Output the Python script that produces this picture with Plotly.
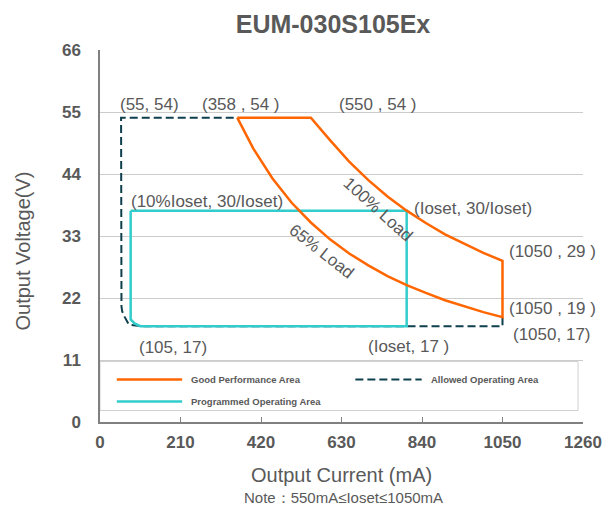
import plotly.graph_objects as go

# ---------------- data ----------------
# Good performance area: top edge, 100% load curve, right edge, 65% load curve
top_I = [358, 550]
top_V = [54, 54]
load100_I = [550, 600, 650, 700, 750, 800, 850, 900, 950, 1000, 1050]
load100_V = [54, 50, 46.2, 42.9, 40, 37.5, 35.3, 33.3, 31.6, 30, 28.6]
load65_I = [358, 400, 450, 500, 550, 600, 650, 700, 750, 800, 850, 900, 950, 1000, 1050]
load65_V = [54, 48.5, 43.2, 38.9, 35.4, 32.4, 29.9, 27.8, 25.9, 24.3, 22.9, 21.6, 20.5, 19.5, 18.6]

# Allowed operating area (dashed)
allowed_I = [1050, 1050, 105, 75, 64, 58, 56, 55, 358]
allowed_V = [18.6, 17, 17, 17.3, 18.7, 19.6, 20.5, 54, 54]

# Programmed operating area (Ioset = 800 mA)
prog_I = [80, 800, 800, 105, 90, 80, 80]
prog_V = [37.5, 37.5, 17, 17, 17.5, 18.2, 37.5]

x_ticks = [0, 210, 420, 630, 840, 1050, 1260]
y_ticks = [0, 11, 22, 33, 44, 55, 66]

# point labels: (text, I, V, xanchor)
labels = [
    ("(55, 54)", 129, 56.3, "center"),
    ("(358 , 54 )", 368, 56.3, "center"),
    ("(550 , 54 )", 725, 56.3, "center"),
    ("(10%Ioset, 30/Ioset)", 279, 39.1, "center"),
    ("(Ioset, 30/Ioset)", 972, 37.9, "center"),
    ("(1050 , 29 )", 1063, 30.3, "left"),
    ("(1050 , 19 )", 1063, 20.2, "left"),
    ("(1050, 17)", 1071, 15.5, "left"),
    ("(105, 17)", 191, 13.2, "center"),
    ("(Ioset, 17 )", 806, 13.4, "center"),
]
curve_labels = [
    ("100% Load", 725, 37.7, 42),
    ("65% Load", 578, 30.2, 38),
]

ORANGE = "#FF6600"
TEAL = "#0E3F4C"
CYAN = "#33CCCC"
GRAY = "#595959"
FONT = "Arial, Liberation Sans, sans-serif"

good_I = top_I + load100_I[1:] + load65_I[::-1]
good_V = top_V + load100_V[1:] + load65_V[::-1]

fig = go.Figure()
fig.add_trace(go.Scatter(x=allowed_I, y=allowed_V, mode="lines",
                         line=dict(color=TEAL, width=2, dash="8px,4px"),
                         name="Allowed Operating Area", showlegend=False))
fig.add_trace(go.Scatter(x=prog_I, y=prog_V, mode="lines",
                         line=dict(color=CYAN, width=2.5),
                         name="Programmed Operating Area", showlegend=False))
fig.add_trace(go.Scatter(x=good_I, y=good_V, mode="lines",
                         line=dict(color=ORANGE, width=2.5),
                         name="Good Performance Area", showlegend=False))

ann = []
for t, xi, yi, xa in labels:
    ann.append(dict(text=t, x=xi, y=yi, xref="x", yref="y", showarrow=False,
                    xanchor=xa, yanchor="middle",
                    font=dict(family=FONT, size=17, color=GRAY)))
for t, xi, yi, ang in curve_labels:
    ann.append(dict(text=t, x=xi, y=yi, xref="x", yref="y", showarrow=False,
                    xanchor="center", yanchor="middle",
                    textangle=ang, font=dict(family=FONT, size=17, color=GRAY)))

# pixel helpers for paper coordinates (plot area on screen: x 100..588, y 50..422.5)
L, R, T, B = 100, 588, 50, 422.5
def px(x):
    return (x - L) / (R - L)
def py(y):
    return (B - y) / (B - T)

# axis titles and note
ann.append(dict(text="Output Current (mA)", x=px(344), y=py(476), xref="paper", yref="paper",
                showarrow=False, xanchor="center", yanchor="middle",
                font=dict(family=FONT, size=20, color=GRAY)))
ann.append(dict(text="Note：550mA≤Ioset≤1050mA", x=px(346), y=py(498), xref="paper", yref="paper",
                showarrow=False, xanchor="center", yanchor="middle",
                font=dict(family=FONT, size=15, color=GRAY)))
ann.append(dict(text="Output Voltage(V)", x=px(22), y=py(251), xref="paper", yref="paper",
                showarrow=False, xanchor="center", yanchor="middle", textangle=-90,
                font=dict(family=FONT, size=20, color=GRAY)))

# legend (manual)
shapes = [
    dict(type="rect", xref="paper", yref="paper", x0=px(100), x1=px(583), y0=py(411), y1=py(362),
         line=dict(color="#D0D0D0", width=1), fillcolor="white", layer="below"),
    dict(type="line", xref="paper", yref="paper", x0=px(117), x1=px(183), y0=py(380), y1=py(380),
         line=dict(color=ORANGE, width=2.5)),
    dict(type="line", xref="paper", yref="paper", x0=px(358), x1=px(425), y0=py(380), y1=py(380),
         line=dict(color=TEAL, width=2, dash="8px,4px")),
    dict(type="line", xref="paper", yref="paper", x0=px(117), x1=px(183), y0=py(402), y1=py(402),
         line=dict(color=CYAN, width=2.5)),
]
for t, x0, y0 in [("Good Performance Area", 190, 380),
                  ("Allowed Operating Area", 432, 380),
                  ("Programmed Operating Area", 190, 402)]:
    ann.append(dict(text="<b>" + t + "</b>", x=px(x0), y=py(y0), xref="paper", yref="paper",
                    showarrow=False, xanchor="left", yanchor="middle",
                    font=dict(family=FONT, size=9.5, color=GRAY)))

# the page body adds an 8px margin, so the figure is 8px smaller than the window
fig.update_layout(
    width=606, height=503,
    margin=dict(l=92, r=26, t=42, b=88.5),
    paper_bgcolor="white", plot_bgcolor="white",
    title=dict(text="<b>EUM-030S105Ex</b>", x=(333 - 8) / 606, y=1 - (24 - 8) / 503,
               xref="container", yref="container", xanchor="center", yanchor="middle",
               font=dict(family=FONT, size=25, color=GRAY)),
    annotations=ann, shapes=shapes, showlegend=False,
)
fig.update_xaxes(range=[0, 1260], tickvals=x_ticks, ticktext=[f"<b>{v}</b>" for v in x_ticks],
                 showgrid=False, zeroline=False, showline=True, linecolor="#808080", linewidth=1.5,
                 ticks="inside", ticklen=5, tickcolor="#808080",
                 tickfont=dict(family=FONT, size=17, color=GRAY), ticklabelstandoff=4)
fig.update_yaxes(range=[0, 66], tickvals=y_ticks, ticktext=[f"<b>{v}</b>" for v in y_ticks],
                 showgrid=True, gridcolor="#CCCCCC", gridwidth=1.2, zeroline=False,
                 showline=True, linecolor="#808080", linewidth=1.5,
                 ticks="", tickfont=dict(family=FONT, size=17, color=GRAY), ticklabelstandoff=14)

fig.write_html("out.html")
